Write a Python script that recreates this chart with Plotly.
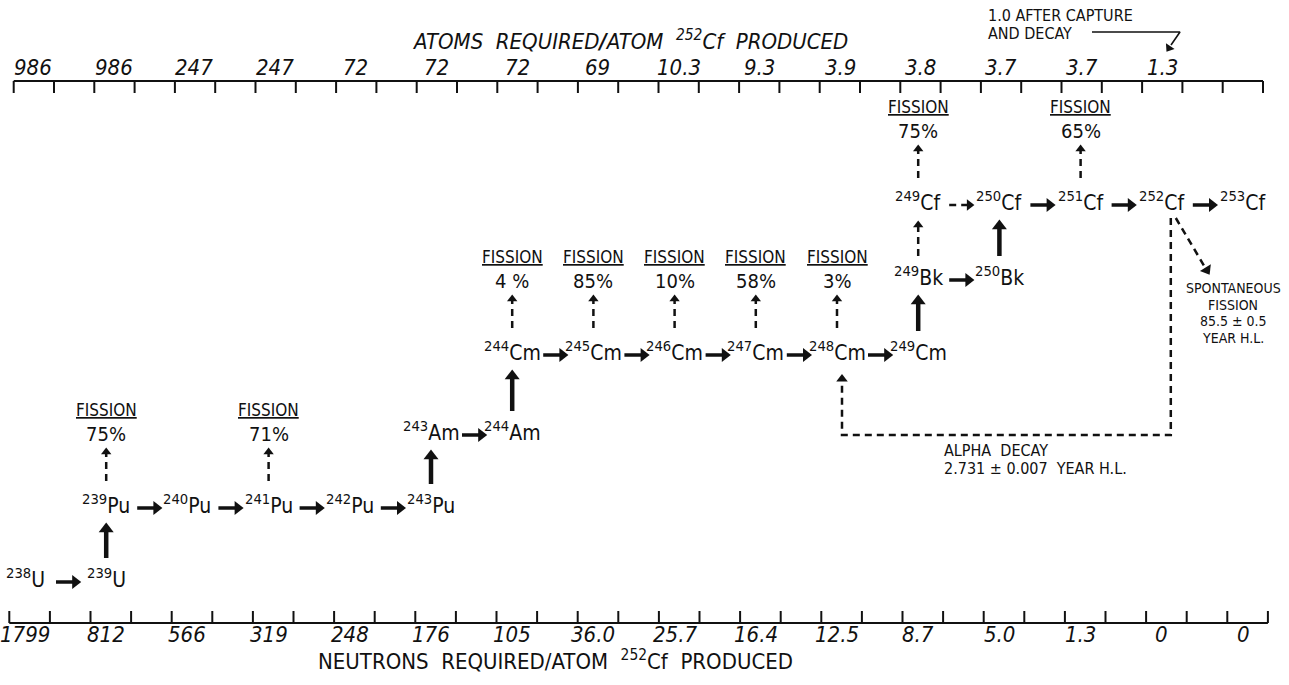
import plotly.graph_objects as go

W, H = 1289, 685

# ---------------- data ----------------
top_values = ["986", "986", "247", "247", "72", "72", "72", "69", "10.3", "9.3",
              "3.9", "3.8", "3.7", "3.7", "1.3"]
bottom_values = ["1799", "812", "566", "319", "248", "176", "105", "36.0", "25.7",
                 "16.4", "12.5", "8.7", "5.0", "1.3", "0", "0"]

nuc_mass = [238, 239, 239, 240, 241, 242, 243, 243, 244, 244, 245, 246, 247, 248,
            249, 249, 250, 249, 250, 251, 252, 253]
nuc_elem = ["U", "U", "Pu", "Pu", "Pu", "Pu", "Pu", "Am", "Am", "Cm", "Cm", "Cm",
            "Cm", "Cm", "Cm", "Bk", "Bk", "Cf", "Cf", "Cf", "Cf", "Cf"]
nuc_col = [0, 1, 1, 2, 3, 4, 5, 5, 6, 6, 7, 8, 9, 10, 11, 11, 12, 11, 12, 13, 14, 15]
nuc_row = [0, 0, 1, 1, 1, 1, 1, 2, 2, 3, 3, 3, 3, 3, 3, 4, 4, 5, 5, 5, 5, 5]

# neutron capture (horizontal) steps: (from, to, dashed)
captures = [("238U", "239U", False), ("239Pu", "240Pu", False), ("240Pu", "241Pu", False),
            ("241Pu", "242Pu", False), ("242Pu", "243Pu", False), ("243Am", "244Am", False),
            ("244Cm", "245Cm", False), ("245Cm", "246Cm", False), ("246Cm", "247Cm", False),
            ("247Cm", "248Cm", False), ("248Cm", "249Cm", False), ("249Bk", "250Bk", False),
            ("249Cf", "250Cf", True), ("250Cf", "251Cf", False), ("251Cf", "252Cf", False),
            ("252Cf", "253Cf", False)]
# beta decays (vertical): (from, to, dashed)
decays = [("239U", "239Pu", False), ("243Pu", "243Am", False), ("244Am", "244Cm", False),
          ("249Cm", "249Bk", False), ("250Bk", "250Cf", False), ("249Bk", "249Cf", True)]
# fission fractions
fission_nuc = ["239Pu", "241Pu", "244Cm", "245Cm", "246Cm", "247Cm", "248Cm", "249Cf", "251Cf"]
fission_pct = ["75%", "71%", "4 %", "85%", "10%", "58%", "3%", "75%", "65%"]

top_title = "ATOMS  REQUIRED<b>/</b>ATOM  <sup>252</sup>Cf  PRODUCED"
bottom_title = "NEUTRONS  REQUIRED/ATOM  <sup>252</sup>Cf  PRODUCED"
capture_note = ["1.0 AFTER CAPTURE", "AND DECAY"]
sf_note = ["SPONTANEOUS", "FISSION", "85.5 ± 0.5", "YEAR H.L."]
alpha_note = ["ALPHA  DECAY", "2.731 ± 0.007  YEAR H.L."]

# ---------------- layout constants ----------------
FONT = "DejaVu Sans Condensed, DejaVu Sans, sans-serif"
INK = "#111111"
X0, DX = 25.0, 81.2
ROW_Y = [582, 508, 435, 355, 280, 205]
DASH = "7px,5px"


def cx(c):
    return X0 + DX * c


pos = {}
for m, e, c, r in zip(nuc_mass, nuc_elem, nuc_col, nuc_row):
    pos[f"{m}{e}"] = (cx(c), ROW_Y[r])

fig = go.Figure()
ann = []


def line(xs, ys, width=2.0, dash="solid"):
    fig.add_trace(go.Scatter(x=xs, y=ys, mode="lines", hoverinfo="skip",
                             line=dict(color=INK, width=width, dash=dash)))


def head(x, y, angle, size=9):
    fig.add_trace(go.Scatter(x=[x], y=[y], mode="markers", hoverinfo="skip",
                             marker=dict(symbol="triangle-up", size=size, angle=angle,
                                         color=INK, line=dict(width=0))))


def text(x, y, t, size=20, xanchor="center", yanchor="middle", **kw):
    ann.append(dict(x=x, y=y, xref="x", yref="y", text=t,
                    showarrow=False, xanchor=xanchor, yanchor=yanchor,
                    font=dict(family=FONT, size=size, color=INK, **kw)))


# ---------------- top scale ----------------
TOP_Y, TOP_T0, TOP_DT = 81, 13.7, 40.3
line([TOP_T0, TOP_T0 + TOP_DT * 31], [TOP_Y, TOP_Y], 2)
tx, ty = [], []
for k in range(32):
    x = TOP_T0 + TOP_DT * k
    tx += [x, x, None]
    ty += [TOP_Y, TOP_Y + 12, None]
line(tx, ty, 2)
for k, v in enumerate(top_values):
    text(33 + 80.7 * k, 67, v, size=22, style="italic")
text(630, 40, top_title, size=22, style="italic")

# ---------------- bottom scale ----------------
BOT_Y, BOT_T0, BOT_DT = 623, 9.3, 40.6
line([BOT_T0, BOT_T0 + BOT_DT * 31], [BOT_Y, BOT_Y], 2)
tx, ty = [], []
for k in range(32):
    x = BOT_T0 + BOT_DT * k
    tx += [x, x, None]
    ty += [BOT_Y, BOT_Y - 12, None]
line(tx, ty, 2)
for k, v in enumerate(bottom_values):
    text(cx(k), 634, v, size=22, style="italic")
text(555, 660, bottom_title, size=22)

# ---------------- nuclides ----------------
for m, e, c, r in zip(nuc_mass, nuc_elem, nuc_col, nuc_row):
    x, y = cx(c), ROW_Y[r]
    text(x, y - 4, f"<sup>{m}</sup>{e}", size=21)

# capture arrows
for a, b, dashed in captures:
    (xa, ya), (xb, yb) = pos[a], pos[b]
    x0, x1 = xa + 31, xb - 26
    if dashed:
        line([x0, x1 - 6], [ya, ya], 2.5, DASH)
        head(x1 - 4, ya, 90, 10)
    else:
        line([x0, x1 - 6], [ya, ya], 3.5)
        head(x1 - 5, ya, 90, 12)

# decay arrows
for a, b, dashed in decays:
    (xa, ya), (xb, yb) = pos[a], pos[b]
    y0, y1 = ya - 24, yb + 15
    if dashed:
        line([xa, xa], [y0, y1 + 6], 2.5, DASH)
        head(xa, y1 + 5, 0, 9)
    else:
        line([xa, xa], [y0, y1 + 8], 4.5)
        head(xa, y1 + 6, 0, 13)

# fission branches
for n, p in zip(fission_nuc, fission_pct):
    x, y = pos[n]
    line([x, x], [y - 27, y - 55], 2.5, DASH)
    head(x, y - 56, 0, 9)
    text(x, y - 98, "FISSION", size=17, lineposition="under")
    text(x, y - 74, p, size=20)

# alpha decay loop from 252Cf back to 248Cm
(xc, yc), (xm, ym) = pos["252Cf"], pos["248Cm"]
line([xc + 9, xc + 9, xm + 5, xm + 5], [yc + 13, 435, 435, ym + 28], 2.5, DASH)
head(xm + 5, ym + 24, 0, 10)
for i, t in enumerate(alpha_note):
    text(942, 450 + 18 * i, t, size=16, xanchor="left")

# spontaneous fission
line([xc + 14, xc + 43], [yc + 13, yc + 62], 2.5, DASH)
head(xc + 45, yc + 65, 149, 11)
for i, t in enumerate(sf_note):
    text(1233, 288 + 16.7 * i, t, size=14)

# capture-and-decay note
for i, t in enumerate(capture_note):
    text(986, 15 + 18 * i, t, size=16, xanchor="left")
line([1092, 1180, 1171], [32, 32, 45], 1.6)
head(1169, 48, 214, 9)

fig.update_layout(
    width=W, height=H, margin=dict(l=0, r=0, t=0, b=0),
    paper_bgcolor="white", plot_bgcolor="white", showlegend=False,
    xaxis=dict(range=[0, W], visible=False, fixedrange=True),
    yaxis=dict(range=[H, 0], visible=False, fixedrange=True),
    annotations=ann,
)
fig.write_html("out.html", config={"displayModeBar": False},
               post_script="document.body.style.margin='0';document.body.style.overflow='hidden';")
